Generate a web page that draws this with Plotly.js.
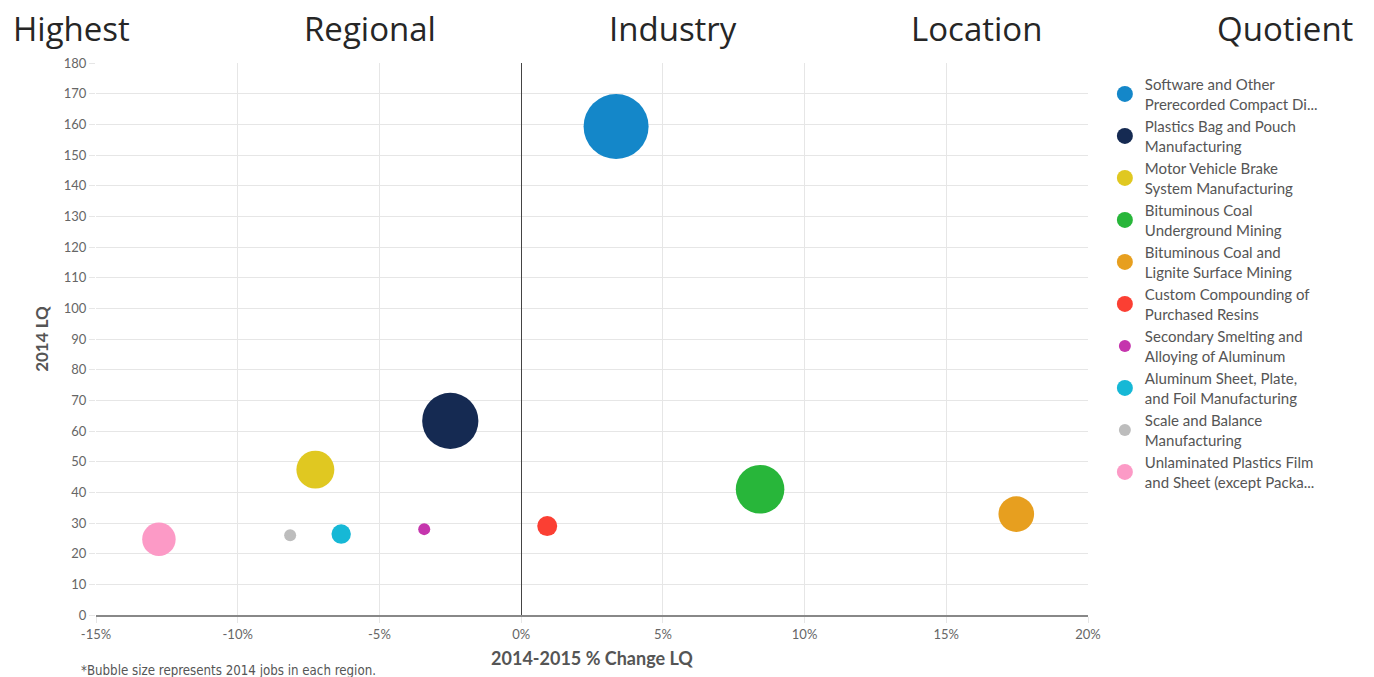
<!DOCTYPE html>
<html>
<head>
<meta charset="utf-8">
<script src="https://cdn.plot.ly/plotly-3.0.1.min.js"></script>
<style>html,body{margin:0;padding:0;background:#fff;}#chart{width:1374px;height:677px;}</style>
</head>
<body>
<div id="chart"></div>
<script>
// Data
var industries = [
  "Software and Other<br>Prerecorded Compact Di...",
  "Plastics Bag and Pouch<br>Manufacturing",
  "Motor Vehicle Brake<br>System Manufacturing",
  "Bituminous Coal<br>Underground Mining",
  "Bituminous Coal and<br>Lignite Surface Mining",
  "Custom Compounding of<br>Purchased Resins",
  "Secondary Smelting and<br>Alloying of Aluminum",
  "Aluminum Sheet, Plate,<br>and Foil Manufacturing",
  "Scale and Balance<br>Manufacturing",
  "Unlaminated Plastics Film<br>and Sheet (except Packa..."
];
var pctChangeLQ = [3.35, -2.5, -7.26, 8.43, 17.47, 0.92, -3.42, -6.35, -8.15, -12.78];
var lq2014 = [159.3, 63.3, 47.4, 41.0, 32.9, 29.0, 28.0, 26.4, 26.0, 24.7];
var jobs2014 = [1056, 790, 360, 590, 318, 100, 36, 94, 36, 280];
var colors = ["#1487c9", "#152a52", "#e0c821", "#28b63a", "#e79f1f", "#fb3f33", "#c535ad", "#16b8d6", "#bdbdbd", "#fc9ac6"];
var xTicks = [-15, -10, -5, 0, 5, 10, 15, 20];
var yTicks = [0, 10, 20, 30, 40, 50, 60, 70, 80, 90, 100, 110, 120, 130, 140, 150, 160, 170, 180];
var titleWords = ["Highest", "Regional", "Industry", "Location", "Quotient"];

var traces = industries.map(function (name, i) {
  return {
    type: "scatter",
    mode: "markers",
    name: name,
    x: [pctChangeLQ[i]],
    y: [lq2014[i]],
    marker: {
      color: colors[i],
      size: [2 * Math.sqrt(jobs2014[i])],
      sizemode: "diameter",
      line: { width: 0 },
      opacity: 1
    },
    hoverinfo: "x+y+name"
  };
});

var titlePos = [71, 370, 673, 976, 1285];
var annotations = titleWords.map(function (w, i) {
  return {
    text: w, xref: "paper", yref: "paper",
    x: (titlePos[i] - 96) / 992, y: (677 - 62 - 28) / 552,
    xanchor: "center", yanchor: "middle", showarrow: false,
    font: { family: "Open Sans, Lato, sans-serif", size: 33, color: "#262626" }
  };
});
annotations.push({
  text: "*Bubble size represents 2014 jobs in each region.",
  xref: "paper", yref: "paper",
  x: (79 - 96) / 992, y: -(670 - 615) / 552,
  xanchor: "left", yanchor: "middle", showarrow: false,
  font: { family: "DejaVu Sans Condensed, Liberation Sans Narrow, sans-serif", size: 13.2, color: "#555" }
});

var layout = {
  width: 1374, height: 677,
  margin: { l: 96, r: 286, t: 63, b: 62 },
  paper_bgcolor: "#fff", plot_bgcolor: "#fff",
  showlegend: true,
  legend: {
    x: 1.017, xanchor: "left", y: 0.991, yanchor: "top",
    font: { family: "Lato, sans-serif", size: 15, color: "#555" },
    itemsizing: "trace",
    tracegroupgap: 0,
    bgcolor: "rgba(0,0,0,0)"
  },
  xaxis: {
    range: [-15, 20],
    tickvals: xTicks,
    ticktext: xTicks.map(function (v) { return v + "%"; }),
    showgrid: true, gridcolor: "#e6e6e6", gridwidth: 1,
    zeroline: true, zerolinecolor: "#444", zerolinewidth: 1,
    showline: true, linecolor: "#888", linewidth: 2,
    ticks: "outside", ticklen: 6, tickcolor: "#e6e6e6",
    tickfont: { family: "Lato, sans-serif", size: 13, color: "#666" },
    title: { text: "<b>2014-2015 % Change LQ</b>", standoff: 12,
      font: { family: "Lato, sans-serif", size: 18, color: "#555" } },
    fixedrange: true
  },
  yaxis: {
    range: [0, 180],
    tickvals: yTicks,
    showgrid: true, gridcolor: "#e6e6e6", gridwidth: 1,
    zeroline: false,
    showline: false,
    ticks: "outside", ticklen: 6, tickcolor: "#e6e6e6",
    tickfont: { family: "Lato, sans-serif", size: 13, color: "#666" },
    title: { text: "<b>2014 LQ</b>", standoff: 10,
      font: { family: "Lato, sans-serif", size: 17, color: "#555" } },
    fixedrange: true
  },
  annotations: annotations
};

Plotly.newPlot("chart", traces, layout, { displayModeBar: false, staticPlot: false });
</script>
</body>
</html>
